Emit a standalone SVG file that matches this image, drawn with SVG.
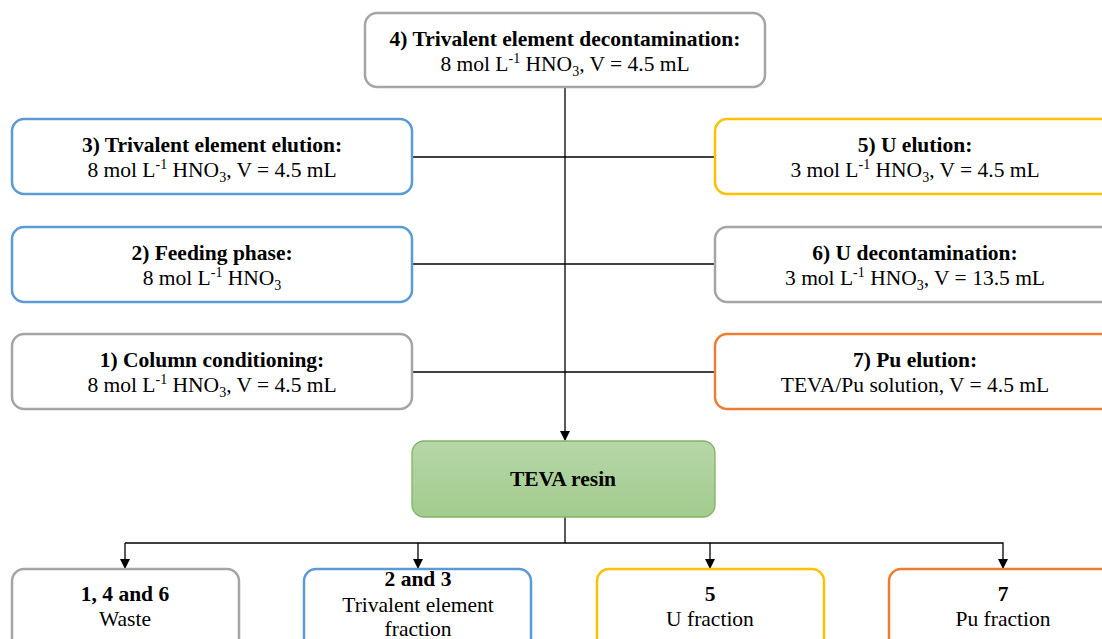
<svg xmlns="http://www.w3.org/2000/svg" width="1102" height="639" viewBox="0 0 1102 639">
<defs>
<linearGradient id="g" x1="0" y1="0" x2="0" y2="1"><stop offset="0" stop-color="#b6d7a8"/><stop offset="1" stop-color="#a2cb8e"/></linearGradient>
<marker id="ah" markerWidth="10" markerHeight="10" refX="9" refY="5" orient="auto" markerUnits="userSpaceOnUse"><path d="M0,0 L10,5 L0,10 z" fill="#000"/></marker>
<style>
.box{fill:#fff;stroke-width:2.5}
.gray{stroke:#a5a5a5}.blue{stroke:#5b9bd5}.yel{stroke:#ffc000}.org{stroke:#ed7d31}
text{font-family:"Liberation Serif","Times New Roman",serif;font-size:21.5px;fill:#000;text-anchor:middle}
.b{font-weight:bold}
.s{font-size:14px}
.ln{stroke:#000;stroke-width:1.3;fill:none}
</style>
</defs>
<g id="connectors">
<line class="ln" x1="565" y1="87" x2="565" y2="440" marker-end="url(#ah)"/>
<line class="ln" x1="412" y1="157" x2="565" y2="157"/>
<line class="ln" x1="412" y1="264" x2="565" y2="264"/>
<line class="ln" x1="412" y1="372" x2="565" y2="372"/>
<line class="ln" x1="565" y1="157" x2="715" y2="157"/>
<line class="ln" x1="565" y1="264" x2="715" y2="264"/>
<line class="ln" x1="565" y1="372" x2="715" y2="372"/>
<line class="ln" x1="565" y1="517" x2="565" y2="543"/>
<polyline class="ln" points="125,543 1003,543 1003,568" marker-end="url(#ah)"/>
<line class="ln" x1="125" y1="543" x2="125" y2="568" marker-end="url(#ah)"/>
<line class="ln" x1="418" y1="543" x2="418" y2="568" marker-end="url(#ah)"/>
<line class="ln" x1="710" y1="543" x2="710" y2="568" marker-end="url(#ah)"/>
</g>
<g id="n4"><rect class="box gray" x="365" y="13" width="400" height="74" rx="12"/>
<text x="565" y="46" class="b">4) Trivalent element decontamination:</text>
<text x="565" y="71">8 mol L<tspan class="s" dy="-8">-1</tspan><tspan dy="8"> HNO</tspan><tspan class="s" dy="5">3</tspan><tspan dy="-5">, V = 4.5 mL</tspan></text></g>
<g id="n3"><rect class="box blue" x="12" y="119" width="400" height="75" rx="12"/>
<text x="212" y="152" class="b">3) Trivalent element elution:</text>
<text x="212" y="177">8 mol L<tspan class="s" dy="-8">-1</tspan><tspan dy="8"> HNO</tspan><tspan class="s" dy="5">3</tspan><tspan dy="-5">, V = 4.5 mL</tspan></text></g>
<g id="n2"><rect class="box blue" x="12" y="227" width="400" height="75" rx="12"/>
<text x="212" y="260" class="b">2) Feeding phase:</text>
<text x="212" y="285">8 mol L<tspan class="s" dy="-8">-1</tspan><tspan dy="8"> HNO</tspan><tspan class="s" dy="5">3</tspan></text></g>
<g id="n1"><rect class="box gray" x="12" y="334" width="400" height="75" rx="12"/>
<text x="212" y="367" class="b">1) Column conditioning:</text>
<text x="212" y="392">8 mol L<tspan class="s" dy="-8">-1</tspan><tspan dy="8"> HNO</tspan><tspan class="s" dy="5">3</tspan><tspan dy="-5">, V = 4.5 mL</tspan></text></g>
<g id="n5"><rect class="box yel" x="715" y="119" width="400" height="75" rx="12"/>
<text x="915" y="152" class="b">5) U elution:</text>
<text x="915" y="177">3 mol L<tspan class="s" dy="-8">-1</tspan><tspan dy="8"> HNO</tspan><tspan class="s" dy="5">3</tspan><tspan dy="-5">, V = 4.5 mL</tspan></text></g>
<g id="n6"><rect class="box gray" x="715" y="227" width="400" height="75" rx="12"/>
<text x="915" y="260" class="b">6) U decontamination:</text>
<text x="915" y="285">3 mol L<tspan class="s" dy="-8">-1</tspan><tspan dy="8"> HNO</tspan><tspan class="s" dy="5">3</tspan><tspan dy="-5">, V = 13.5 mL</tspan></text></g>
<g id="n7"><rect class="box org" x="715" y="334" width="400" height="75" rx="12"/>
<text x="915" y="367" class="b">7) Pu elution:</text>
<text x="915" y="392">TEVA/Pu solution, V = 4.5 mL</text></g>
<g id="teva"><rect x="412" y="441" width="303" height="76" rx="12" fill="url(#g)" stroke="#82b366" stroke-width="1.3"/>
<text x="563" y="486" class="b">TEVA resin</text></g>
<g id="waste"><rect class="box gray" x="12" y="569" width="227" height="90" rx="12"/>
<text x="125" y="601" class="b">1, 4 and 6</text>
<text x="125" y="626">Waste</text></g>
<g id="trival"><rect class="box blue" x="304" y="569" width="227" height="90" rx="12"/>
<text x="418" y="586" class="b">2 and 3</text>
<text x="418" y="612">Trivalent element</text>
<text x="418" y="636">fraction</text></g>
<g id="ufrac"><rect class="box yel" x="597" y="569" width="227" height="90" rx="12"/>
<text x="710" y="601" class="b">5</text>
<text x="710" y="626">U fraction</text></g>
<g id="pufrac"><rect class="box org" x="889" y="569" width="227" height="90" rx="12"/>
<text x="1003" y="601" class="b">7</text>
<text x="1003" y="626">Pu fraction</text></g>
</svg>
